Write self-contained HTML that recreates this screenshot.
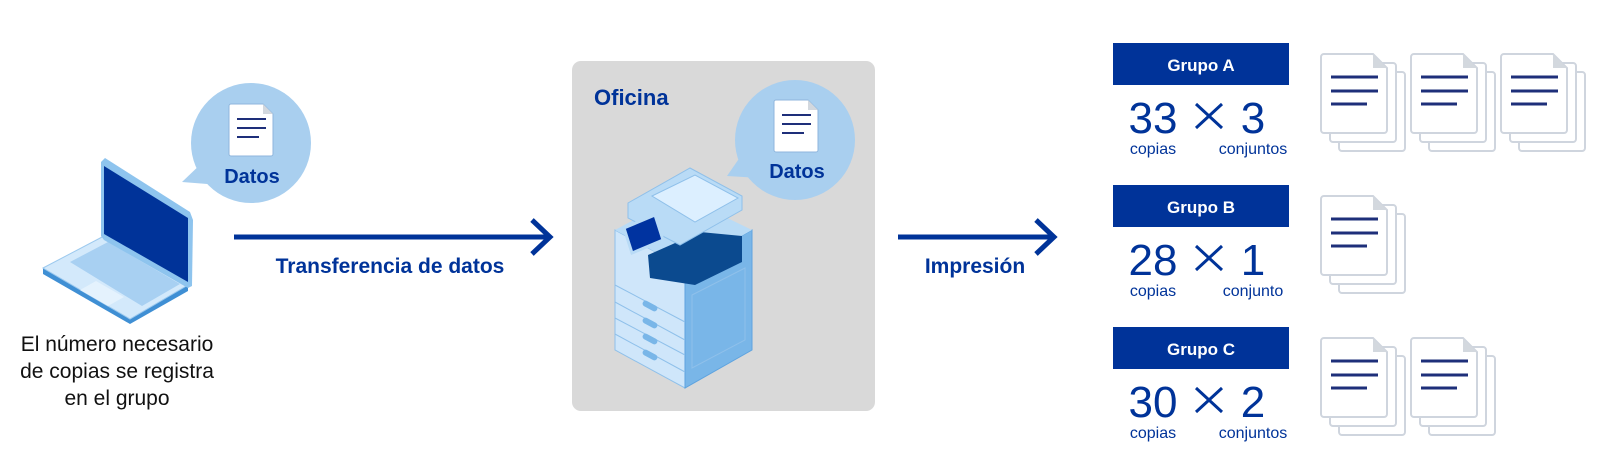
<!DOCTYPE html>
<html><head><meta charset="utf-8"><style>
html,body{margin:0;padding:0;background:#fff;}
svg{display:block;}
text{font-family:"Liberation Sans","Noto Sans CJK JP",sans-serif;}
</style></head><body>
<svg width="1618" height="472" viewBox="0 0 1618 472" xmlns="http://www.w3.org/2000/svg">
<defs>
 <g id="doc">
  <rect x="18" y="18" width="66" height="79" rx="3" fill="#fff" stroke="#cfd5de" stroke-width="2"/>
  <rect x="9" y="9" width="66" height="79" rx="3" fill="#fff" stroke="#cfd5de" stroke-width="2"/>
  <path d="M3 0 H52 L66 14 V76 a3 3 0 0 1 -3 3 H3 a3 3 0 0 1 -3 -3 V3 a3 3 0 0 1 3 -3z" fill="#fff" stroke="#cfd5de" stroke-width="2"/>
  <path d="M52 0 L66 14 H52z" fill="#d3d8de"/>
  <line x1="10" y1="23" x2="57" y2="23" stroke="#1e2f7a" stroke-width="3"/>
  <line x1="10" y1="37" x2="57" y2="37" stroke="#1e2f7a" stroke-width="3"/>
  <line x1="10" y1="50" x2="46" y2="50" stroke="#1e2f7a" stroke-width="3"/>
 </g>
 <g id="bdoc">
  <path d="M2 0 H34 L44 10 V50 a2 2 0 0 1 -2 2 H2 a2 2 0 0 1 -2 -2 V2 a2 2 0 0 1 2 -2z" fill="#fff" stroke="#8fb6dc" stroke-width="1"/>
  <path d="M34 0 L44 10 H34z" fill="#d3d8de"/>
  <line x1="8" y1="15" x2="37" y2="15" stroke="#1e2f7a" stroke-width="2"/>
  <line x1="8" y1="24" x2="37" y2="24" stroke="#1e2f7a" stroke-width="2"/>
  <line x1="8" y1="33" x2="30" y2="33" stroke="#1e2f7a" stroke-width="2"/>
 </g>
</defs>

<!-- Laptop -->
<polygon points="43,268 104,236 188,285 188,291 130,324 43,274" fill="#3f8fd4"/>
<polygon points="43,268 104,236 188,285 130,319" fill="#d3e9fb" stroke="#9cc9ee" stroke-width="1"/>
<polygon points="70,262 108,242 180,284 142,306" fill="#a8d0f2"/>
<polygon points="80,290 96,281 124,297 108,306" fill="#e4f2fd"/>
<polygon points="101,162 105,158 190,212 193,220 192,286 188,288 104,240 101,236" fill="#8ec4ee"/>
<polygon points="104,166 188,218 188,282 104,234" fill="#003399"/>

<!-- Bubble 1 -->
<circle cx="251" cy="143" r="60" fill="#a9cfef"/>
<polygon points="182,182 205,160 220,185" fill="#a9cfef"/>
<g transform="translate(229,104)"><use href="#bdoc"/></g>
<text x="252" y="183" font-size="20" font-weight="bold" fill="#003399" text-anchor="middle">Datos</text>

<!-- bottom-left label -->
<g font-size="21" fill="#111" text-anchor="middle">
 <text x="117" y="351">El número necesario</text>
 <text x="117" y="378">de copias se registra</text>
 <text x="117" y="405">en el grupo</text>
</g>

<!-- Arrow 1 -->
<line x1="234" y1="237" x2="548" y2="237" stroke="#003399" stroke-width="5"/>
<polyline points="532,220 550,237 532,254" fill="none" stroke="#003399" stroke-width="5"/>
<text x="390" y="273" font-size="21" font-weight="bold" fill="#003399" text-anchor="middle">Transferencia de datos</text>

<!-- Office box -->
<rect x="572" y="61" width="303" height="350" rx="9" fill="#d9d9d9"/>
<text x="594" y="105" font-size="22" font-weight="bold" fill="#003399">Oficina</text>
<circle cx="795" cy="140" r="60" fill="#a9cfef"/>
<polygon points="727,176 745,150 760,178" fill="#a9cfef"/>
<g transform="translate(774,100)"><use href="#bdoc"/></g>
<text x="797" y="178" font-size="20" font-weight="bold" fill="#003399" text-anchor="middle">Datos</text>

<!-- Printer -->
<polygon points="615,230 685,268 685,388 615,350" fill="#cfe6fa" stroke="#8fc0ea" stroke-width="1"/>
<polygon points="685,268 752,230 752,350 685,388" fill="#79b6e8" stroke="#5ea3df" stroke-width="1"/>
<polygon points="615,230 680,195 752,230 685,268" fill="#b9dbf6"/>
<polygon points="648,255 700,232 742,236 742,262 695,285 650,278" fill="#0b4a8f"/>
<polygon points="628,203 690,168 742,196 742,210 680,245 628,218" fill="#b9dbf6" stroke="#8fc0ea"/>
<polygon points="652,196 695,175 738,198 695,222" fill="#dcefff" stroke="#8fc0ea"/>
<polygon points="624,228 655,215 663,240 632,253" fill="#0033a0" stroke="#b9dbf6" stroke-width="3"/>
<g stroke="#8fc0ea" fill="none">
 <line x1="615" y1="285" x2="685" y2="322"/>
 <line x1="615" y1="302" x2="685" y2="340"/>
 <line x1="615" y1="318" x2="685" y2="355"/>
 <line x1="615" y1="334" x2="685" y2="372"/>
 <polygon points="692,295 745,268 745,340 692,368"/>
</g>
<g fill="#79b6e8">
 <rect x="642" y="303" width="16" height="6" rx="3" transform="rotate(28 650 306)"/>
 <rect x="642" y="320" width="16" height="6" rx="3" transform="rotate(28 650 323)"/>
 <rect x="642" y="336" width="16" height="6" rx="3" transform="rotate(28 650 339)"/>
 <rect x="642" y="352" width="16" height="6" rx="3" transform="rotate(28 650 355)"/>
</g>

<!-- Arrow 2 -->
<line x1="898" y1="237" x2="1052" y2="237" stroke="#003399" stroke-width="5"/>
<polyline points="1036,220 1054,237 1036,254" fill="none" stroke="#003399" stroke-width="5"/>
<text x="975" y="273" font-size="21" font-weight="bold" fill="#003399" text-anchor="middle">Impresión</text>

<!-- Groups -->
<g fill="#003399">
 <rect x="1113" y="43" width="176" height="42"/>
 <rect x="1113" y="185" width="176" height="42"/>
 <rect x="1113" y="327" width="176" height="42"/>
</g>
<g font-size="17" font-weight="bold" fill="#fff" text-anchor="middle">
 <text x="1201" y="71">Grupo A</text>
 <text x="1201" y="213">Grupo B</text>
 <text x="1201" y="355">Grupo C</text>
</g>
<g fill="#003399" font-size="44" text-anchor="middle">
 <text x="1153" y="133">33</text><text x="1253" y="133">3</text>
 <text x="1153" y="275">28</text><text x="1253" y="275">1</text>
 <text x="1153" y="417">30</text><text x="1253" y="417">2</text>
</g>
<g stroke="#003399" stroke-width="3">
 <path d="M1196 104 L1222 128 M1222 104 L1196 128"/>
 <path d="M1196 246 L1222 270 M1222 246 L1196 270"/>
 <path d="M1196 388 L1222 412 M1222 388 L1196 412"/>
</g>
<g fill="#003399" font-size="16" text-anchor="middle">
 <text x="1153" y="154">copias</text><text x="1253" y="154">conjuntos</text>
 <text x="1153" y="296">copias</text><text x="1253" y="296">conjunto</text>
 <text x="1153" y="438">copias</text><text x="1253" y="438">conjuntos</text>
</g>

<use href="#doc" x="1321" y="54"/>
<use href="#doc" x="1411" y="54"/>
<use href="#doc" x="1501" y="54"/>
<use href="#doc" x="1321" y="196"/>
<use href="#doc" x="1321" y="338"/>
<use href="#doc" x="1411" y="338"/>
</svg>
</body></html>
